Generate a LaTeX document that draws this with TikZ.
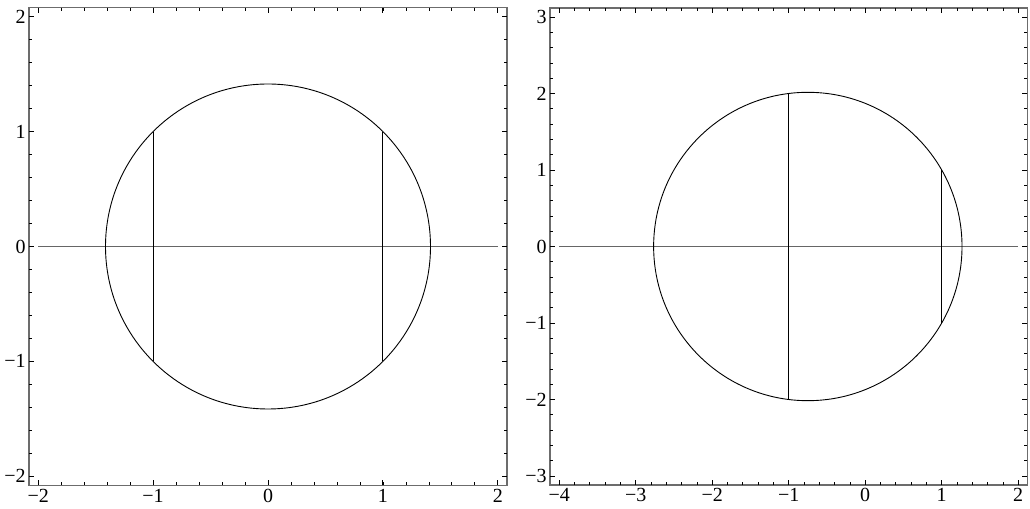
\documentclass[tikz,border=0pt]{standalone}
\usepackage{fontspec}
\setmainfont{Liberation Serif}
\begin{document}
\begin{tikzpicture}[x=0.5pt,y=0.5pt,
    bingkai/.style={draw=gray!85!black, line width=0.7pt},
    mayor/.style={draw=black, line width=0.45pt},
    minor/.style={draw=black, line width=0.35pt},
    sumbu/.style={draw=gray!80!black, line width=0.75pt},
    kurva/.style={draw=black, line width=0.45pt},
    label/.style={font=\fontsize{10}{12}\selectfont, inner sep=1.5pt}
  ]
  \useasboundingbox (0,0) rectangle (1030,509);

  % Panel kiri
  \begin{scope}[shift={(268,262.5)}, x=57.45pt, y=57.45pt]
    \draw[bingkai] (-2.08,-2.08) rectangle (2.08,2.08);
    \foreach \t in {-2,-1.8,...,2.01} {
      \draw[minor] (\t,-2.08) -- ++(0,1.5pt);
      \draw[minor] (\t,2.08) -- ++(0,-1.5pt);
      \draw[minor] (-2.08,\t) -- ++(1.5pt,0);
      \draw[minor] (2.08,\t) -- ++(-1.5pt,0);
    }
    \foreach \t/\s in {-2/−2,-1/−1,0/0,1/1,2/2} {
      \draw[mayor] (\t,-2.08) -- ++(0,2.5pt);
      \draw[mayor] (\t,2.08) -- ++(0,-2.5pt);
      \draw[mayor] (-2.08,\t) -- ++(2.5pt,0);
      \draw[mayor] (2.08,\t) -- ++(-2.5pt,0);
      \node[label, below] (kx\t) at (\t,-2.08) {\s};
      \node[label, left] (ky\t) at (-2.08,\t) {\s};
    }
    % Sumbu dan lingkaran
    \draw[sumbu] (-2,0) -- (2,0);
    \draw[kurva] (0,0) circle[radius=1.41421];
    \draw[kurva] (-1,-1) -- (-1,1);
    \draw[kurva] (1,-1) -- (1,1);
  \end{scope}

  % Panel kanan
  \begin{scope}[shift={(865.2,262.5)}, x=38.25pt, y=38.25pt]
    \draw[bingkai] (-4.12,-3.12) rectangle (2.12,3.12);
    \foreach \t in {-4,-3.8,...,2.01} {
      \draw[minor] (\t,-3.12) -- ++(0,1.5pt);
      \draw[minor] (\t,3.12) -- ++(0,-1.5pt);
    }
    \foreach \t in {-3,-2.8,...,3.01} {
      \draw[minor] (-4.12,\t) -- ++(1.5pt,0);
      \draw[minor] (2.12,\t) -- ++(-1.5pt,0);
    }
    \foreach \t/\s in {-4/−4,-3/−3,-2/−2,-1/−1,0/0,1/1,2/2} {
      \draw[mayor] (\t,-3.12) -- ++(0,2.5pt);
      \draw[mayor] (\t,3.12) -- ++(0,-2.5pt);
      \node[label, below] (kx\t) at (\t,-3.12) {\s};
    }
    \foreach \t/\s in {-3/−3,-2/−2,-1/−1,0/0,1/1,2/2,3/3} {
      \draw[mayor] (-4.12,\t) -- ++(2.5pt,0);
      \draw[mayor] (2.12,\t) -- ++(-2.5pt,0);
      \node[label, left] (ky\t) at (-4.12,\t) {\s};
    }
    % Sumbu dan lingkaran
    \draw[sumbu] (-4,0) -- (2,0);
    \draw[kurva] (-0.75,0) circle[radius=2.01556];
    \draw[kurva] (-1,-2) -- (-1,2);
    \draw[kurva] (1,-1) -- (1,1);
  \end{scope}
\end{tikzpicture}
\end{document}
